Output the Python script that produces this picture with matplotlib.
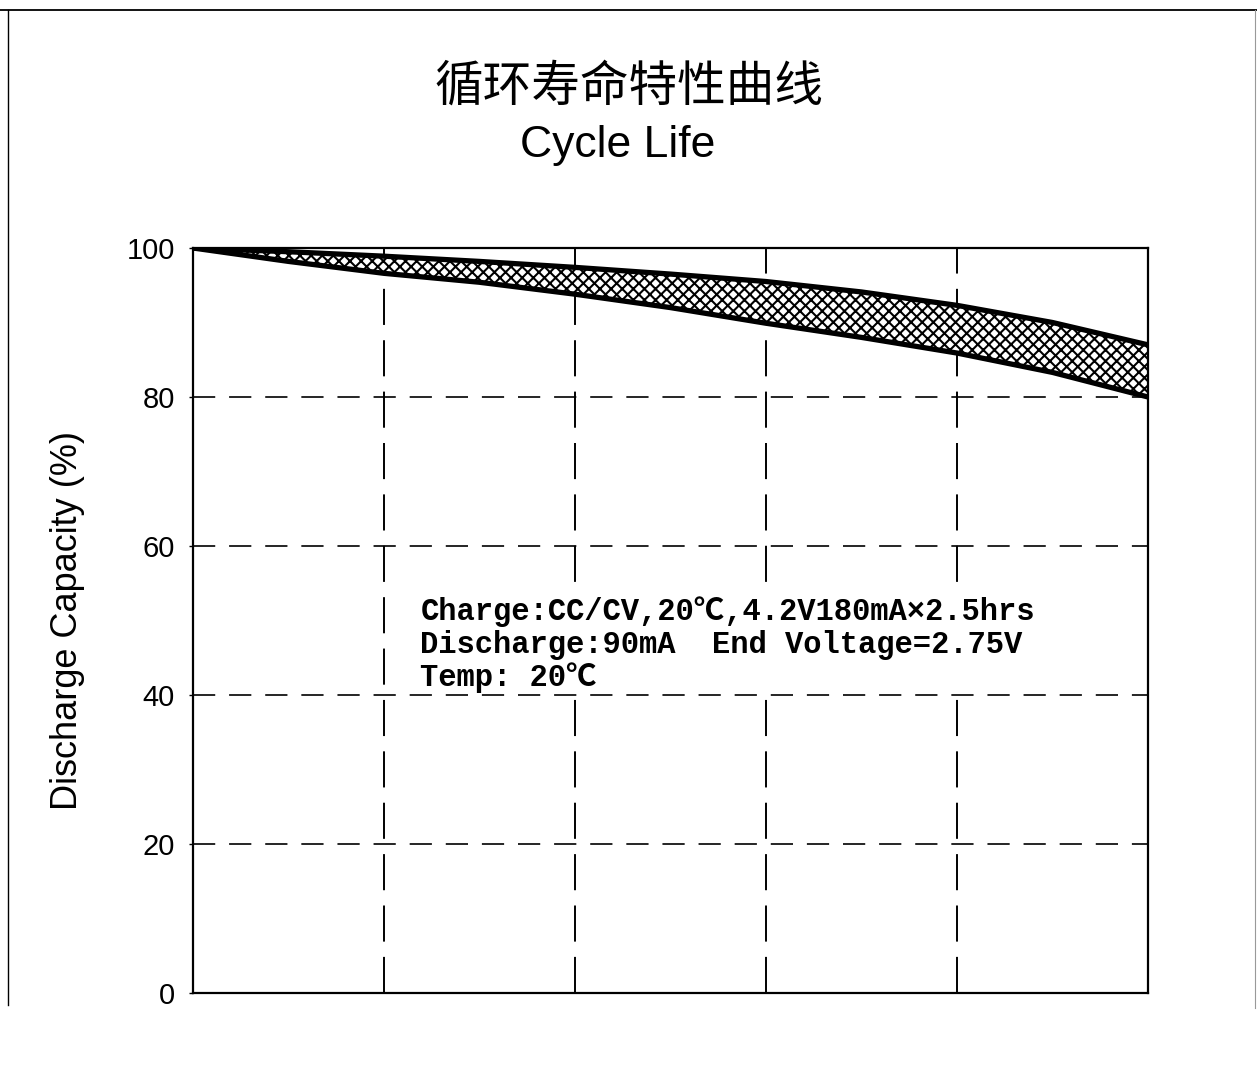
import matplotlib
matplotlib.use("Agg")
import matplotlib.pyplot as plt
from matplotlib.lines import Line2D

# data (x in cycles, 0..500)
cycles = [0, 50, 100, 150, 200, 250, 300, 350, 400, 450, 500]
upper = [100, 99.5, 98.9, 98.2, 97.4, 96.5, 95.5, 94.1, 92.3, 90.0, 87.0]
lower = [100, 98.2, 96.6, 95.4, 93.8, 92.0, 89.9, 88.0, 85.9, 83.3, 80.0]
y_ticks = [0, 20, 40, 60, 80, 100]
x_grid = [100, 200, 300, 400]
y_grid = [20, 40, 60, 80]

title_cn = "循环寿命特性曲线"
title_en = "Cycle Life"
y_label = "Discharge Capacity (%)"
note = ("Charge:CC/CV,20℃,4.2V180mA×2.5hrs\n"
        "Discharge:90mA  End Voltage=2.75V\n"
        "Temp: 20℃")

plt.rcParams['font.family'] = ['Liberation Sans', 'Noto Sans CJK SC', 'DejaVu Sans']
plt.rcParams['hatch.linewidth'] = 1.5
plt.rcParams['lines.scale_dashes'] = False

fig = plt.figure(figsize=(12.57, 10.73), dpi=100)
ax = fig.add_axes([193 / 1257, 1 - 993 / 1073, 955 / 1257, 745 / 1073])

# grid lines
for yv in y_grid:
    ax.axhline(yv, color='black', lw=1.2, dashes=(16, 10), zorder=1)
for xv in x_grid:
    ax.axvline(xv, color='black', lw=1.4, dashes=(26, 11), zorder=1)

# band between curves
ax.fill_between(cycles, lower, upper, facecolor='white', edgecolor='black',
                hatch='xxx', linewidth=0, zorder=2)
ax.plot(cycles, upper, color='black', lw=3.8, zorder=3, solid_capstyle='butt')
ax.plot(cycles, lower, color='black', lw=3.8, zorder=3, solid_capstyle='butt')

ax.set_xlim(0, 500)
ax.set_ylim(0, 100)
ax.set_xticks([])
ax.set_yticks(y_ticks)
ax.tick_params(axis='y', labelsize=21, length=3, width=1, pad=10)
for s in ax.spines.values():
    s.set_linewidth(1.6)
ax.set_ylabel(y_label, fontsize=26, labelpad=30)

# condition note sits on a white patch, grid hidden behind it
ax.text(119, 53.2, note, fontsize=22, va='top', ha='left', linespacing=1.1,
        family=['Liberation Mono', 'Noto Sans CJK SC'], fontweight='bold', zorder=4,
        bbox=dict(facecolor='white', edgecolor='none', pad=1))

fig.text(629 / 1257, 1 - 87 / 1073, title_cn, fontsize=35, ha='center', va='center',
         family=['Noto Sans CJK SC'], fontweight='light')
fig.text(618 / 1257, 1 - 157 / 1073, title_en, fontsize=32, ha='center', va='baseline')

# outer frame (top, left, right)
W, H = 1257, 1073
fig.add_artist(Line2D([0, 1], [1 - 10 / H, 1 - 10 / H], color='black', lw=1.3,
                      transform=fig.transFigure))
fig.add_artist(Line2D([8 / W, 8 / W], [1 - 10 / H, 1 - 1005 / H], color='black', lw=1.0,
                      transform=fig.transFigure))
fig.add_artist(Line2D([1255 / W, 1255 / W], [1 - 10 / H, 1 - 1008 / H], color='#999999',
                      lw=0.8, transform=fig.transFigure))

fig.savefig("out.png", dpi=100)
